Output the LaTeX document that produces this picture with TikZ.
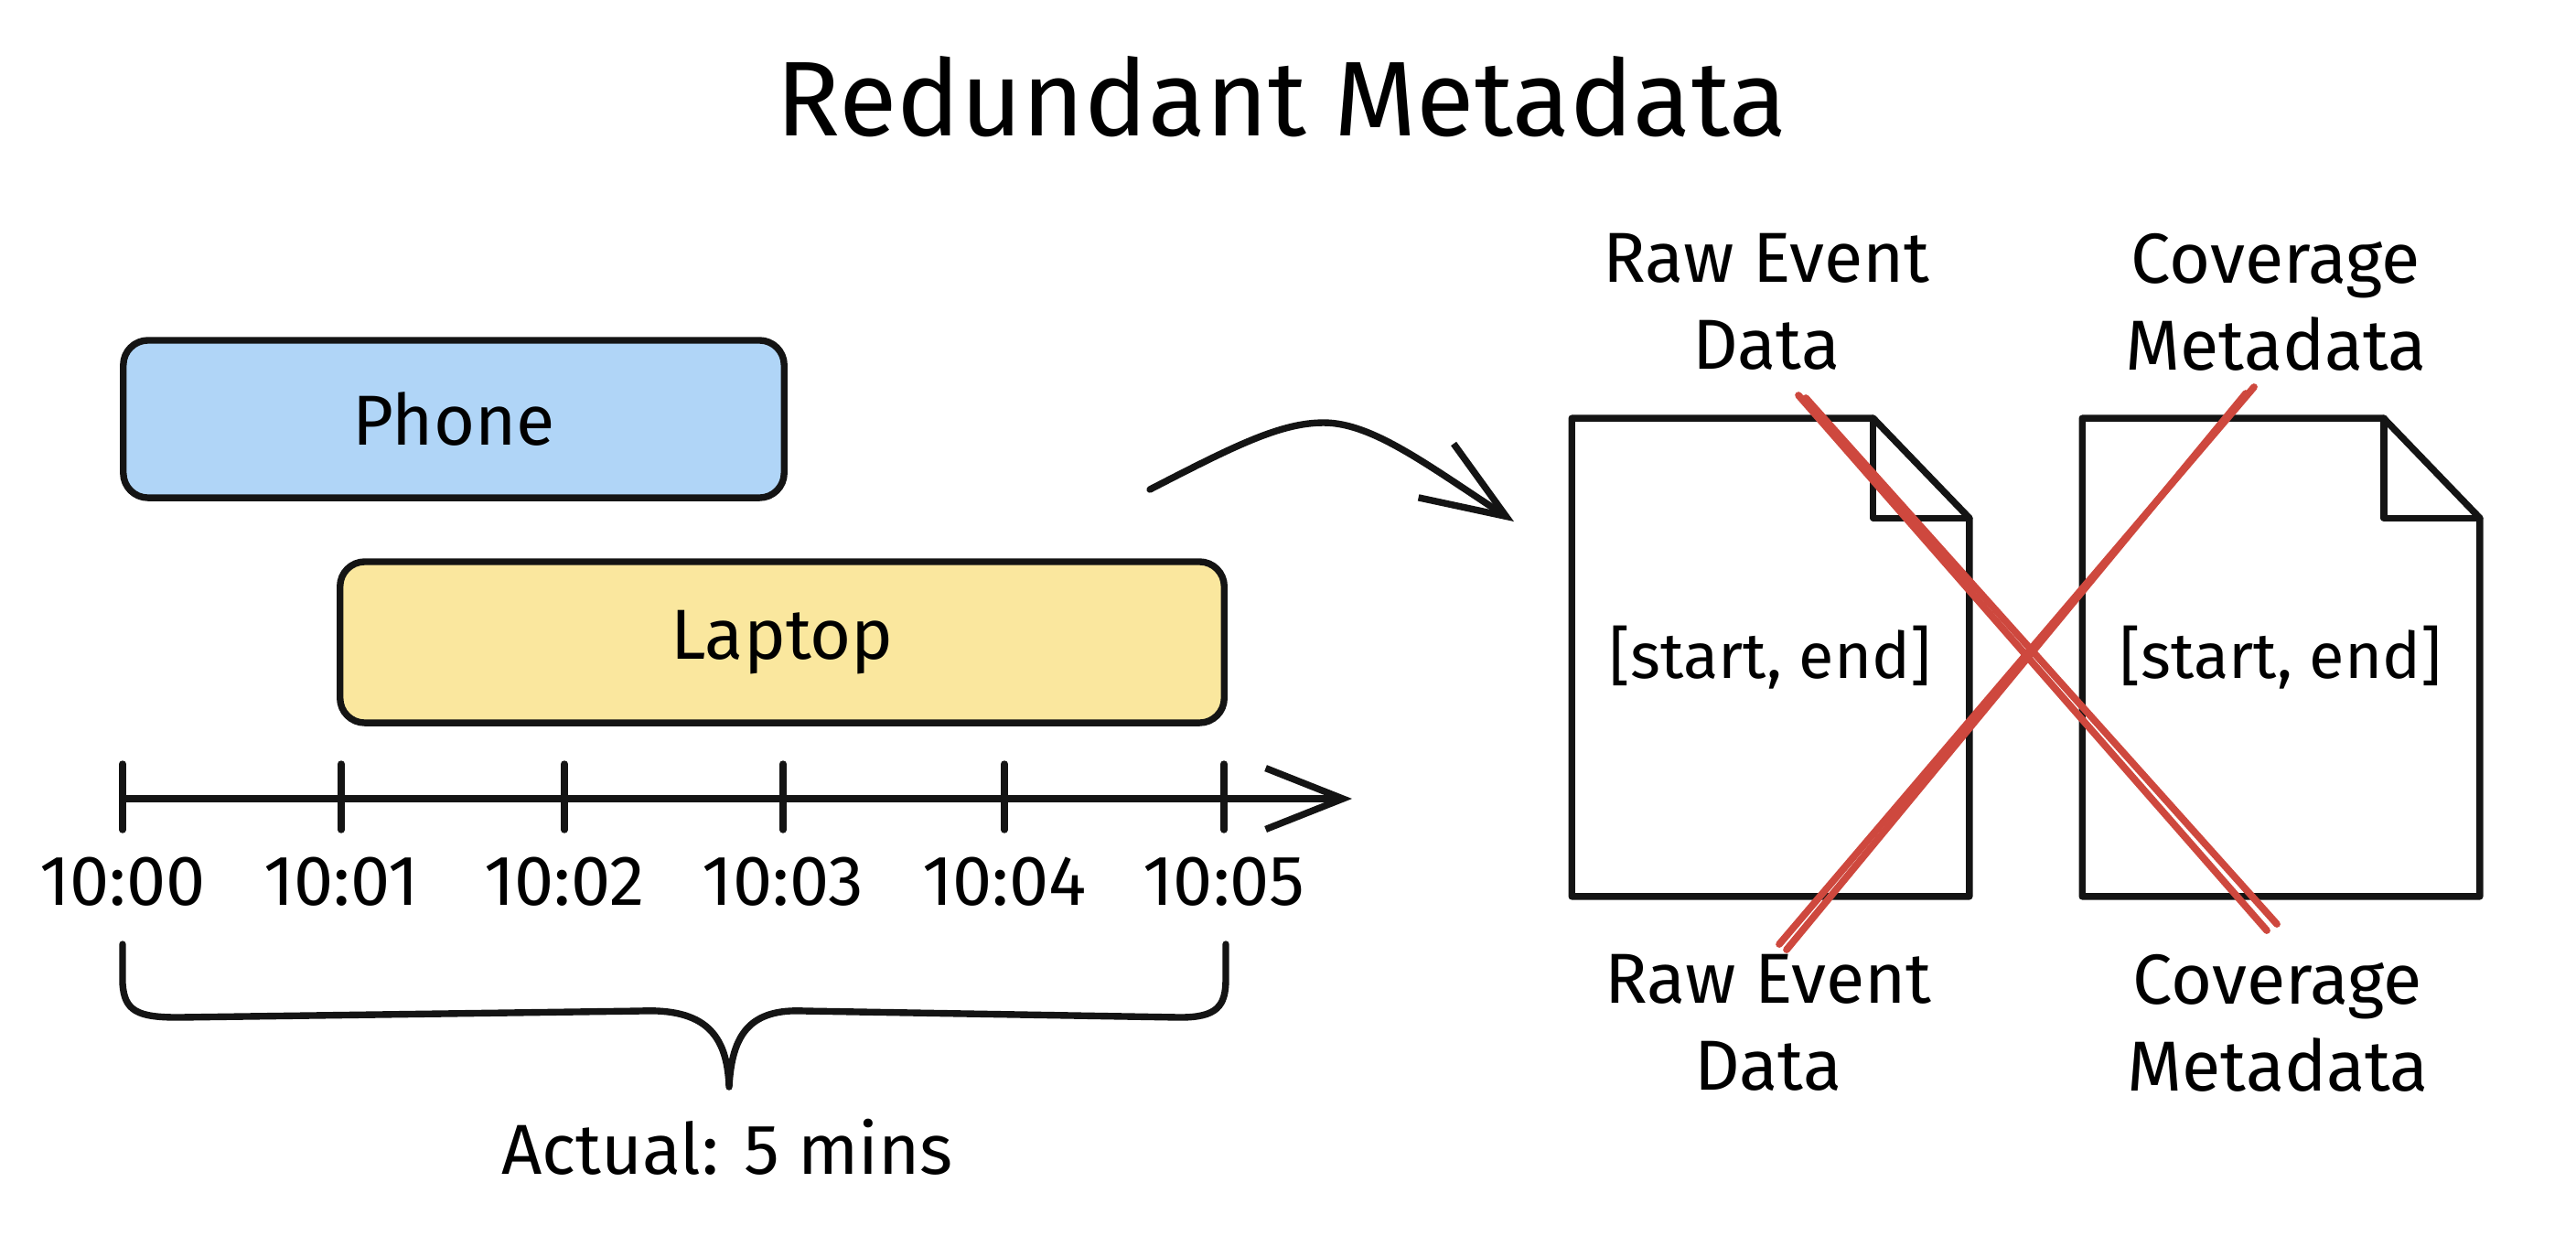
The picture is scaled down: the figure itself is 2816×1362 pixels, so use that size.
\documentclass[tikz,border=0pt]{standalone}
\usepackage{fontspec}
\setmainfont{Fira Sans}
\usetikzlibrary{positioning,arrows.meta,calc}
\definecolor{phoneBlue}{RGB}{176,213,247}
\definecolor{laptopYellow}{RGB}{250,231,158}
\definecolor{crossRed}{RGB}{206,72,62}
\definecolor{inkBlack}{RGB}{20,20,20}

\tikzset{
  ink/.style={draw=inkBlack, line width=2.1pt, line cap=round, line join=round},
  bar/.style={ink, rounded corners=0.27cm, font=\fontsize{22}{26}\selectfont},
  doc/.style={minimum width=4.33cm, minimum height=5.21cm, inner sep=0pt, font=\fontsize{20}{24}\selectfont},
  caption/.style={align=center, font=\fontsize{22}{27}\selectfont},
  timelabel/.style={font=\fontsize{22}{26}\selectfont},
  strike/.style={draw=crossRed, line width=2.2pt, line cap=round},
}
% page outline with folded corner
\newcommand{\dogear}[1]{%
  \draw[ink] (#1.north west) -- ([xshift=-1.05cm]#1.north east) -- ([yshift=-1.09cm]#1.north east)
    -- (#1.south east) -- (#1.south west) -- cycle;
  \draw[ink] ([xshift=-1.05cm]#1.north east) |- ([yshift=-1.09cm]#1.north east);
}

\begin{document}
\begin{tikzpicture}[x=0.01cm, y=-0.01cm]
  \fill[white] (0,0) rectangle (2816,1362);
  \useasboundingbox (0,0) rectangle (2816,1362);

  % title
  \node[font=\fontsize{33}{38}\selectfont] (title) at (1401,106) {Redundant Metadata};

  % device sessions
  \node[bar, fill=phoneBlue, minimum width=7.22cm, minimum height=1.72cm] (phone) at (496,458) {Phone};
  \node[bar, fill=laptopYellow, minimum width=9.66cm, minimum height=1.76cm] (laptop) at (855,702) {Laptop};

  % timeline
  \coordinate (axisstart) at (134,873);
  \coordinate (axisend) at (1478,873);
  \draw[ink, -{Straight Barb[length=24pt,width=19pt,line width=2.1pt]}] (axisstart) -- (axisend);
  \foreach \x/\t [count=\i from 0] in {134/10:00, 373/10:01, 617/10:02, 856/10:03, 1098/10:04, 1338/10:05} {
    \coordinate (tick\i) at (\x,873);
    \draw[ink] ($(tick\i)+(0,-38)$) -- ($(tick\i)+(0,34)$);
    \node[timelabel] (lbl\i) at (\x,964) {\t};
  }

  % brace
  \draw[ink] (134,1032) -- (134,1075) .. controls (136,1105) and (150,1112) .. (195,1112)
    -- (700,1105) .. controls (770,1102) and (795,1130) .. (797,1188)
    .. controls (800,1130) and (820,1102) .. (880,1105)
    -- (1290,1112) .. controls (1330,1112) and (1340,1100) .. (1340,1070) -- (1340,1032);
  \node[timelabel] (actual) at (795,1254) {Actual: 5 mins};

  % curved arrow
  \coordinate (bendstart) at (1257,535);
  \coordinate (bendend) at (1655,570);
  \draw[ink, -{Straight Barb[length=26pt,width=20pt,line width=2.1pt]}] (bendstart)
    .. controls (1350,487) and (1400,462) .. (1447,462)
    .. controls (1500,462) and (1560,508) .. (bendend);

  % documents
  \node[doc] (rawdoc) at (1935.5,718.5) {[start, end]};
  \node[doc] (covdoc) at (2493.5,718.5) {[start, end]};
  \dogear{rawdoc}
  \dogear{covdoc}

  \node[caption] (rawtop) at (1931,330) {Raw Event\\Data};
  \node[caption] (covtop) at (2488,330) {Coverage\\Metadata};
  \node[caption] (rawbot) at (1933,1118) {Raw Event\\Data};
  \node[caption] (covbot) at (2490,1118) {Coverage\\Metadata};

  % red cross
  \draw[strike] (1966,432) -- (2478,1017);
  \draw[strike] (1974,435) -- (2489,1010);
  \draw[strike] (2464,423) -- (1945,1032);
  \draw[strike] (2455,430) -- (1953,1038);
\end{tikzpicture}
\end{document}
